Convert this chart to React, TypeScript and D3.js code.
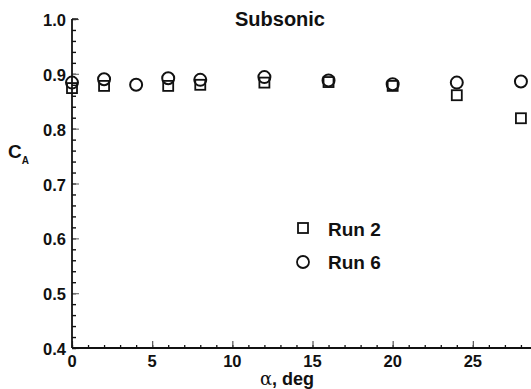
import * as d3 from "d3";
import React, { useRef, useEffect } from "react";

const alpha = [0, 2, 4, 6, 8, 12, 16, 20, 24, 28];
// no Run 2 point is visible at alpha = 4
const run2 = [0.874, 0.878, null, 0.878, 0.88, 0.884, 0.885, 0.878, 0.861, 0.819];
const run6 = [0.884, 0.89, 0.88, 0.892, 0.889, 0.894, 0.888, 0.881, 0.884, 0.886];
const xTicks = [0, 5, 10, 15, 20, 25];
const yTicks = [0.4, 0.5, 0.6, 0.7, 0.8, 0.9, 1.0];

const W = 531;
const H = 389;
const font = "'Liberation Sans', Arial, Helvetica, sans-serif";
const ink = "#111";

function App() {
  const ref = useRef<SVGSVGElement>(null);

  useEffect(() => {
    const svg = d3.select(ref.current);
    svg.selectAll("*").remove();

    const x = d3.scaleLinear().domain([0, 30]).range([72, 553]);
    const y = d3.scaleLinear().domain([0.4, 1.0]).range([348, 19]);

    // y axis, ticks pointing inward
    const yAxis = svg.append("g").attr("transform", `translate(${x(0)},0)`);
    yAxis
      .call(
        d3.axisRight(y).tickValues(d3.range(0.4, 1.001, 0.02)).tickSize(4).tickFormat(() => "")
      )
      .call((g) => g.select(".domain").remove());
    yAxis.selectAll("line").attr("stroke", ink).attr("stroke-width", 1.4);
    const yMajor = svg.append("g").attr("transform", `translate(${x(0)},0)`);
    yMajor
      .call(d3.axisRight(y).tickValues(yTicks).tickSize(7).tickFormat(() => ""))
      .call((g) => g.select(".domain").remove());
    yMajor.selectAll("line").attr("stroke", "#777").attr("stroke-width", 1.2);

    // x axis
    const xAxis = svg.append("g").attr("transform", `translate(0,${y(0.4)})`);
    xAxis
      .call(d3.axisTop(x).tickValues(d3.range(0, 31, 1)).tickSize(3).tickFormat(() => ""))
      .call((g) => g.select(".domain").remove());
    xAxis.selectAll("line").attr("stroke", ink).attr("stroke-width", 1.3);
    const xMajor = svg.append("g").attr("transform", `translate(0,${y(0.4)})`);
    xMajor
      .call(d3.axisTop(x).tickValues(xTicks).tickSize(7).tickFormat(() => ""))
      .call((g) => g.select(".domain").remove());
    xMajor.selectAll("line").attr("stroke", "#555").attr("stroke-width", 1.2);

    // axis lines
    svg
      .append("line")
      .attr("x1", x(0))
      .attr("x2", x(0))
      .attr("y1", y(1.0))
      .attr("y2", y(0.4))
      .attr("stroke", ink)
      .attr("stroke-width", 1.8);
    svg
      .append("line")
      .attr("x1", x(0))
      .attr("x2", x(30))
      .attr("y1", y(0.4))
      .attr("y2", y(0.4))
      .attr("stroke", ink)
      .attr("stroke-width", 1.8);
    svg
      .append("line")
      .attr("x1", x(0))
      .attr("x2", x(0) + 6)
      .attr("y1", y(1.0))
      .attr("y2", y(1.0))
      .attr("stroke", ink)
      .attr("stroke-width", 1.4);

    // tick labels
    svg
      .append("g")
      .selectAll("text")
      .data(yTicks)
      .join("text")
      .attr("x", x(0) - 6)
      .attr("y", (d) => y(d) + 7)
      .attr("text-anchor", "end")
      .attr("font-family", font)
      .attr("font-weight", "bold")
      .attr("font-size", 16.5)
      .attr("fill", ink)
      .text((d) => d.toFixed(1));

    svg
      .append("g")
      .selectAll("text")
      .data(xTicks)
      .join("text")
      .attr("x", (d) => x(d))
      .attr("y", 367)
      .attr("text-anchor", "middle")
      .attr("font-family", font)
      .attr("font-weight", "bold")
      .attr("font-size", 16.5)
      .attr("fill", ink)
      .text((d) => d);

    // axis titles
    const xt = svg
      .append("text")
      .attr("x", 287)
      .attr("y", 385)
      .attr("text-anchor", "middle")
      .attr("font-family", font)
      .attr("font-weight", "bold")
      .attr("font-size", 18)
      .attr("fill", ink);
    xt.append("tspan").attr("font-family", "'DejaVu Serif', serif").attr("font-weight", "normal").text("α");
    xt.append("tspan").text(", deg");

    const yt = svg
      .append("text")
      .attr("x", 8)
      .attr("y", 158)
      .attr("font-family", font)
      .attr("font-weight", "bold")
      .attr("font-size", 19)
      .attr("fill", ink);
    yt.append("tspan").text("C");
    yt.append("tspan").attr("font-size", 10).attr("dy", 6).text("A");

    svg
      .append("text")
      .attr("x", 280)
      .attr("y", 26)
      .attr("text-anchor", "middle")
      .attr("font-family", font)
      .attr("font-weight", "bold")
      .attr("font-size", 20)
      .attr("fill", ink)
      .text("Subsonic");

    // markers
    const pts = svg.append("g");
    pts
      .selectAll("rect")
      .data(alpha.map((a, i) => [a, run2[i]]).filter((d) => d[1] != null))
      .join("rect")
      .attr("x", (d) => x(d[0]) - 5)
      .attr("y", (d) => y(d[1]) - 5)
      .attr("width", 10)
      .attr("height", 10)
      .attr("fill", "none")
      .attr("stroke", ink)
      .attr("stroke-width", 1.8);
    pts
      .selectAll("circle")
      .data(alpha.map((a, i) => [a, run6[i]]))
      .join("circle")
      .attr("cx", (d) => x(d[0]))
      .attr("cy", (d) => y(d[1]))
      .attr("r", 6)
      .attr("fill", "none")
      .attr("stroke", ink)
      .attr("stroke-width", 2);

    // legend
    const legend = svg.append("g");
    legend
      .append("rect")
      .attr("x", 298)
      .attr("y", 223)
      .attr("width", 10)
      .attr("height", 10)
      .attr("fill", "none")
      .attr("stroke", ink)
      .attr("stroke-width", 1.8);
    legend
      .append("circle")
      .attr("cx", 303)
      .attr("cy", 262)
      .attr("r", 6)
      .attr("fill", "none")
      .attr("stroke", ink)
      .attr("stroke-width", 1.8);
    legend
      .selectAll("text")
      .data(["Run 2", "Run 6"])
      .join("text")
      .attr("x", 328)
      .attr("y", (_, i) => 236 + i * 33)
      .attr("font-family", font)
      .attr("font-weight", "bold")
      .attr("font-size", 19)
      .attr("fill", ink)
      .text((d) => d);
  }, []);

  return (
    <svg
      ref={ref}
      width={W}
      height={H}
      style={{ position: "absolute", left: 0, top: 0, background: "white" }}
    ></svg>
  );
}

export default App;
